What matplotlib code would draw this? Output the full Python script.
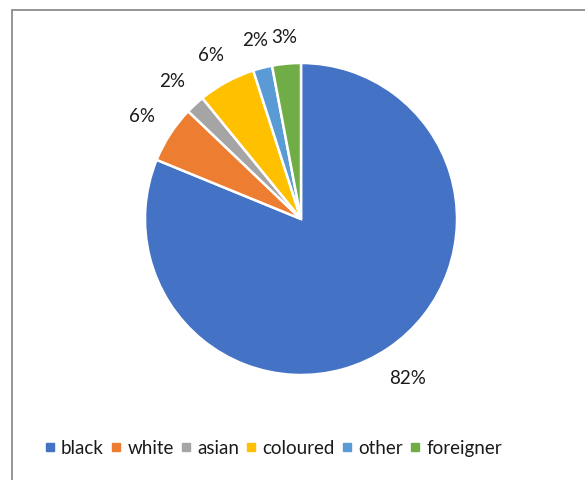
import numpy as np
import matplotlib.pyplot as plt
from matplotlib.patches import Rectangle
from matplotlib.lines import Line2D

# population share by group (percent, as entered; they total 101)
groups = ['black', 'white', 'asian', 'coloured', 'other', 'foreigner']
shares = [82, 6, 2, 6, 2, 3]
colours = ['#4472C4', '#ED7D31', '#A5A5A5', '#FFC000', '#5B9BD5', '#70AD47']

plt.rcParams['font.family'] = ['Lato', 'DejaVu Sans']

W, H = 585, 481
fig = plt.figure(figsize=(W / 100, H / 100), dpi=100)

# chart frame, runs off the right and bottom edges
fig.patches.append(Rectangle((12 / W, -0.1), 1.2, 1 - 11 / H + 0.1,
                             transform=fig.transFigure, fill=False,
                             edgecolor='#8c8c8c', linewidth=1.3))

cx, cy, r = 301, 220, 156
ax = fig.add_axes([(cx - r) / W, (H - cy - r) / H, 2 * r / W, 2 * r / H])
total = sum(shares)
wedges, _, pcts = ax.pie(shares, colors=colours, startangle=90, counterclock=False,
                         autopct=lambda p: f'{p * total / 100:.0f}%',
                         wedgeprops=dict(edgecolor='white', linewidth=1.8),
                         textprops=dict(fontsize=13.5, color='#1a1a1a'))
ax.set_xlim(-1, 1)
ax.set_ylim(-1, 1)
ax.set_aspect('equal')
ax.axis('off')

# push each label just clear of the rim, by its own size along the slice direction
fig.canvas.draw()
renderer = fig.canvas.get_renderer()
for w, t in zip(wedges, pcts):
    ang = np.deg2rad((w.theta1 + w.theta2) / 2)
    bb = t.get_window_extent(renderer)
    d = r + 18 + abs(np.cos(ang)) * bb.width / 2 + abs(np.sin(ang)) * bb.height / 2
    t.set_position((d / r * np.cos(ang), d / r * np.sin(ang)))

handles = [Line2D([], [], marker='s', linestyle='', markersize=6,
                  markerfacecolor=c, markeredgecolor=c) for c in colours]
fig.legend(handles, groups, loc='center', bbox_to_anchor=(273 / W, 1 - 449 / H),
           ncol=6, frameon=False, fontsize=13.5, handlelength=0.6,
           handletextpad=0.3, columnspacing=0.35, labelcolor='#1a1a1a')

fig.savefig('out.png', dpi=100)
